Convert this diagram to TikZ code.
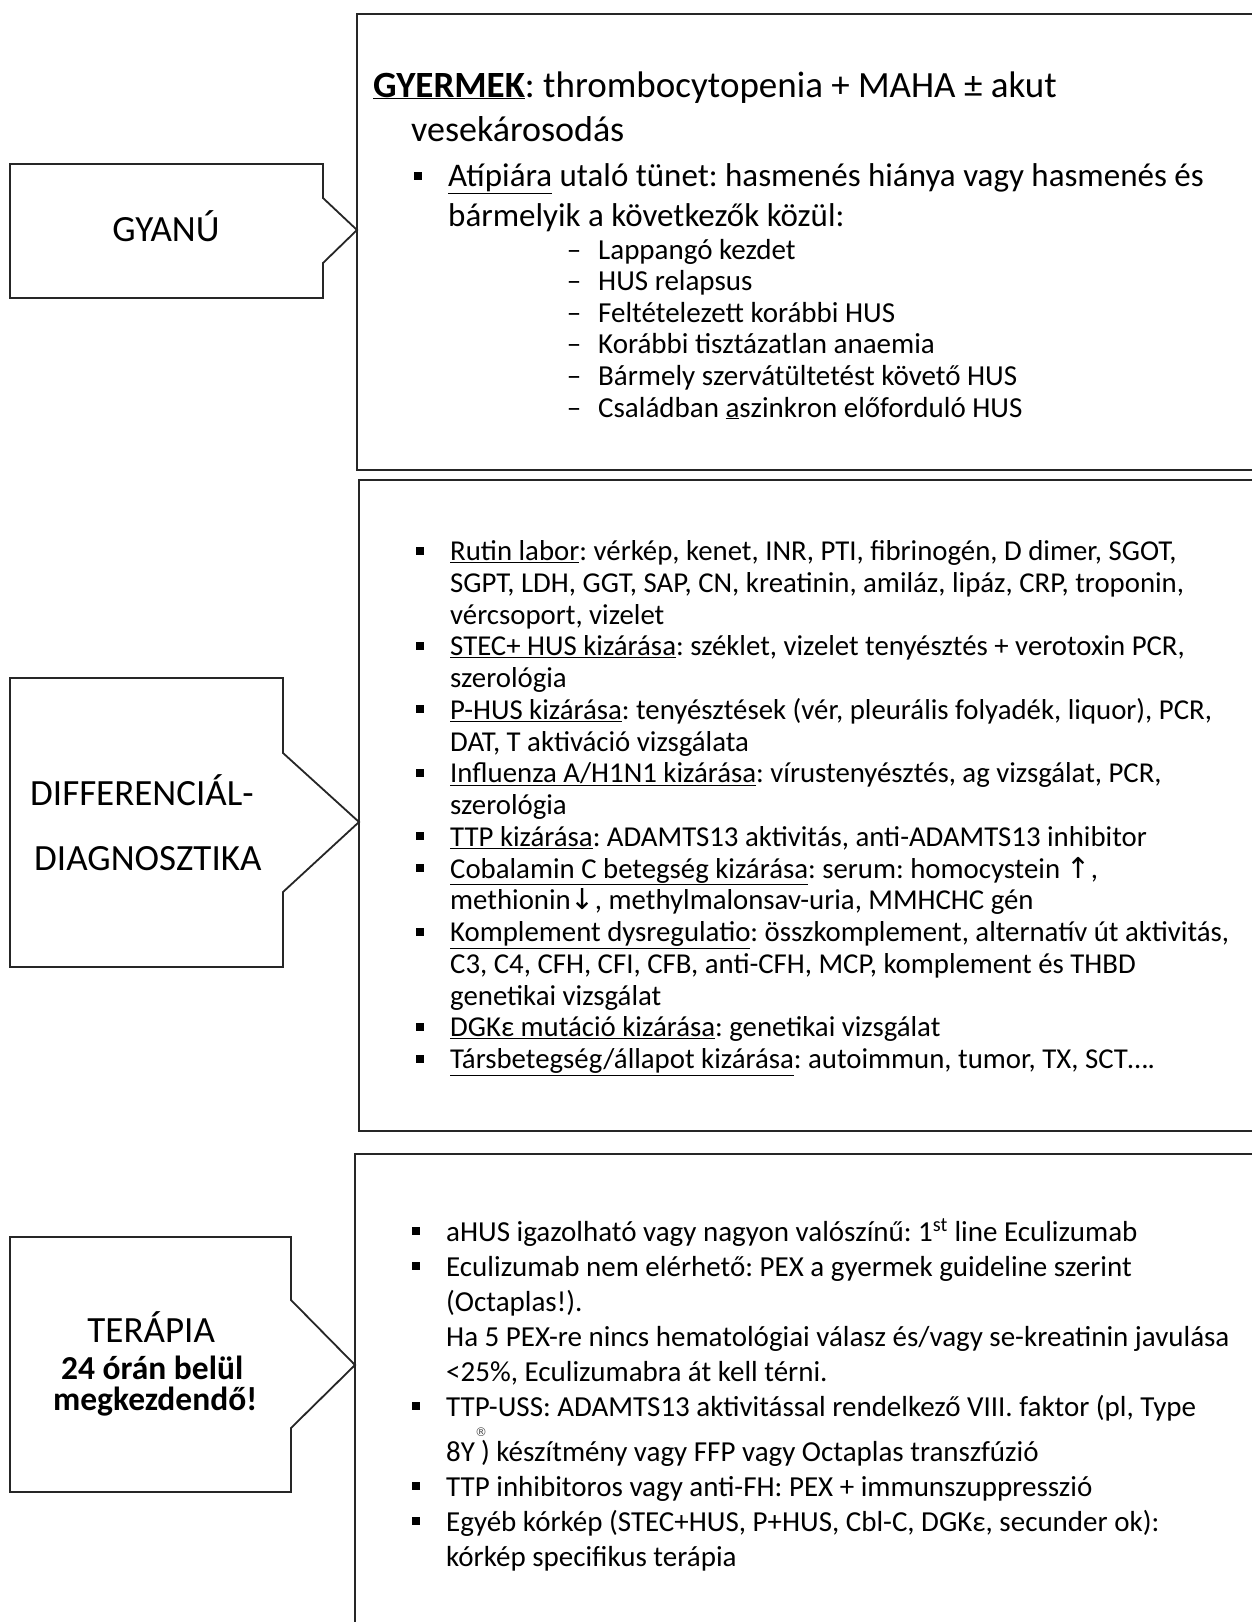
\documentclass[tikz,border=0pt]{standalone}
\usepackage{fontspec}
\setmainfont{Carlito}
\newfontfamily\symf{DejaVu Sans}
\frenchspacing
\newcommand\bul{\llap{\rule[6pt]{8pt}{8pt}\hspace{26pt}}}
\newcommand\dsh{\llap{–\hspace{17pt}}}
\begin{document}
\begin{tikzpicture}[x=1pt,y=1pt,
  frame/.style={draw=black!85,line width=1.8pt,line join=miter},
  big/.style={anchor=base west,inner sep=0pt,font=\fontsize{36}{43}\selectfont},
  mid/.style={anchor=base west,inner sep=0pt,font=\fontsize{33}{39}\selectfont},
  sub/.style={anchor=base west,inner sep=0pt,font=\fontsize{29}{34}\selectfont},
  dd/.style={anchor=base west,inner sep=0pt,font=\fontsize{28.8}{33}\selectfont},
  tt/.style={anchor=base west,inner sep=0pt,font=\fontsize{29}{34}\selectfont},
  lbl/.style={inner sep=0pt,font=\fontsize{37}{44}\selectfont}]
\useasboundingbox (0,0) rectangle (1251,-1622);
\fill[white] (0,0) rectangle (1251,-1622);
% content frames
\coordinate (b1nw) at (357,-14);
\coordinate (b2nw) at (359,-480);
\coordinate (b3nw) at (355,-1154);
\draw[frame] (1262,-14) -- (b1nw) -- (357,-470) -- (1262,-470);
\draw[frame] (1262,-480) -- (b2nw) -- (359,-1131) -- (1262,-1131);
\draw[frame] (1262,-1154) -- (b3nw) -- (355,-1640);
% callouts
\coordinate (t1) at (357,-230);
\coordinate (t2) at (359,-822);
\coordinate (t3) at (355,-1365);
\draw[frame] (323,-198) -- (323,-164) -- (10,-164) -- (10,-298) -- (323,-298) -- (323,-263) -- (t1) -- cycle;
\draw[frame] (283,-753) -- (283,-678) -- (10,-678) -- (10,-967) -- (283,-967) -- (283,-892) -- (t2) -- cycle;
\draw[frame] (291,-1300) -- (291,-1237) -- (10,-1237) -- (10,-1492) -- (291,-1492) -- (291,-1428) -- (t3) -- cycle;
% labels
\node[lbl,anchor=base] (gyanu) at (166,-241.5) {GYANÚ};
\node[lbl,anchor=base west] (diff1) at (30,-805) {DIFFERENCIÁL-};
\node[lbl,anchor=base west] (diff2) at (34,-870) {DIAGNOSZTIKA};
\node[inner sep=0pt,anchor=base west] (ter) at (21,-1342) {\vtop{\lineskiplimit=-100pt\lineskip=0pt\baselineskip=37pt
  \hbox to 260pt{\hss\fontsize{37}{44}\selectfont TERÁPIA\hss}
  \hbox to 260pt{\kern2pt\hss\fontsize{33.5}{39}\selectfont\bfseries 24 órán belül\hss}
  \baselineskip=31pt
  \hbox to 260pt{\kern8pt\hss\fontsize{33.5}{39}\selectfont\bfseries megkezdendő!\hss}}};
% box 1
\node[big,font=\fontsize{37}{44}\selectfont] (a1) at (373,-97) {\textbf{\underline{GYERMEK}}: thrombocytopenia + MAHA ± akut};
\node[big] (a2) at (411,-141) {vesekárosodás};
\node[mid] (a3) at (448,-186) {\bul\underline{Atípiára} utaló tünet: hasmenés hiánya vagy hasmenés és};
\node[mid] (a4) at (448,-226) {bármelyik a következők közül:};
\node[sub] (a5) at (598,-259) {\dsh Lappangó kezdet};
\node[sub] (a6) at (598,-290.6) {\dsh HUS relapsus};
\node[sub] (a7) at (598,-322.2) {\dsh Feltételezett korábbi HUS};
\node[sub] (a8) at (598,-353.8) {\dsh Korábbi tisztázatlan anaemia};
\node[sub] (a9) at (598,-385.4) {\dsh Bármely szervátültetést követő HUS};
\node[sub] (a10) at (598,-417) {\dsh Családban \underline{a}szinkron előforduló HUS};
% box 2
\node[dd] (d1) at (450,-560.5) {\bul\underline{Rutin labor}: vérkép, kenet, INR, PTI, fibrinogén, D dimer, SGOT,};
\node[dd] (d2) at (450,-592.25) {SGPT, LDH, GGT, SAP, CN, kreatinin, amiláz, lipáz, CRP, troponin,};
\node[dd] (d3) at (450,-624) {vércsoport, vizelet};
\node[dd] (d4) at (450,-655.75) {\bul\underline{STEC+ HUS kizárása}: széklet, vizelet tenyésztés + verotoxin PCR,};
\node[dd] (d5) at (450,-687.5) {szerológia};
\node[dd] (d6) at (450,-719.25) {\bul\underline{P-HUS kizárása}: tenyésztések (vér, pleurális folyadék, liquor), PCR,};
\node[dd] (d7) at (450,-751) {DAT, T aktiváció vizsgálata};
\node[dd] (d8) at (450,-782.75) {\bul\underline{Influenza A/H1N1 kizárása}: vírustenyésztés, ag vizsgálat, PCR,};
\node[dd] (d9) at (450,-814.5) {szerológia};
\node[dd] (d10) at (450,-846.25) {\bul\underline{TTP kizárása}: ADAMTS13 aktivitás, anti-ADAMTS13 inhibitor};
\node[dd] (d11) at (450,-878) {\bul\underline{Cobalamin C betegség kizárása}: serum: homocystein {\symf ↑},};
\node[dd] (d12) at (450,-909.75) {methionin{\symf ↓}, methylmalonsav-uria, MMHCHC gén};
\node[dd] (d13) at (450,-941.5) {\bul\underline{Komplement dysregulatio}: összkomplement, alternatív út aktivitás,};
\node[dd] (d14) at (450,-973.25) {C3, C4, CFH, CFI, CFB, anti-CFH, MCP, komplement és THBD};
\node[dd] (d15) at (450,-1005) {genetikai vizsgálat};
\node[dd] (d16) at (450,-1036.75) {\bul\underline{DGKε mutáció kizárása}: genetikai vizsgálat};
\node[dd] (d17) at (450,-1068.5) {\bul\underline{Társbetegség/állapot kizárása}: autoimmun, tumor, TX, SCT….};
% box 3
\node[tt] (e1) at (446,-1241) {\bul aHUS igazolható vagy nagyon valószínű: 1\textsuperscript{st} line Eculizumab};
\node[tt] (e2) at (446,-1276) {\bul Eculizumab nem elérhető: PEX a gyermek guideline szerint};
\node[tt] (e3) at (446,-1311) {(Octaplas!).};
\node[tt] (e4) at (446,-1346) {Ha 5 PEX-re nincs hematológiai válasz és/vagy se-kreatinin javulása};
\node[tt] (e5) at (446,-1381) {<25\%, Eculizumabra át kell térni.};
\node[tt] (e6) at (446,-1416) {\bul TTP-USS: ADAMTS13 aktivitással rendelkező VIII. faktor (pl, Type};
\node[tt] (e7) at (446,-1461) {8Y\rlap{\hspace{0pt}\raisebox{25pt}{\fontsize{12}{12}\selectfont\symf\color{black!70}®}}\hspace{6pt}) készítmény vagy FFP vagy Octaplas transzfúzió};
\node[tt] (e8) at (446,-1496) {\bul TTP inhibitoros vagy anti-FH: PEX + immunszuppresszió};
\node[tt] (e9) at (446,-1531) {\bul Egyéb kórkép (STEC+HUS, P+HUS, Cbl-C, DGKε, secunder ok):};
\node[tt] (e10) at (446,-1566) {kórkép specifikus terápia};
\end{tikzpicture}
\end{document}
